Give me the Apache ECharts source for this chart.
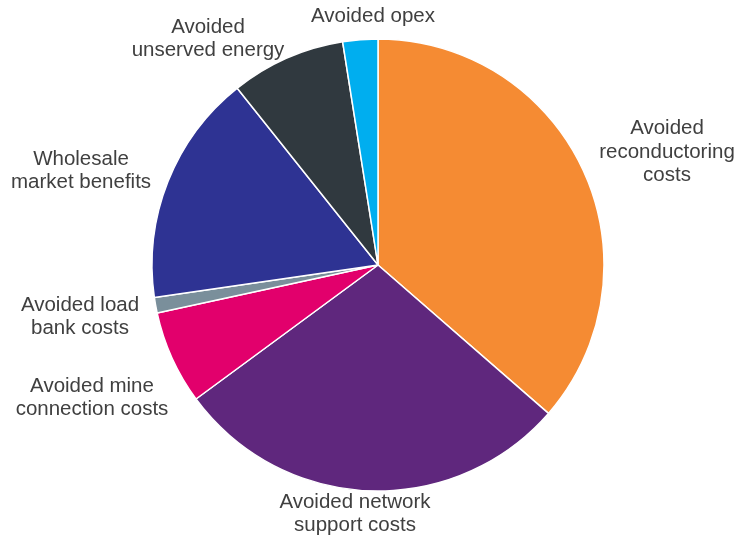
<!DOCTYPE html>
<html>
<head>
<meta charset="utf-8">
<script src="https://cdn.jsdelivr.net/npm/echarts@6/dist/echarts.min.js"></script>
<style>html,body{margin:0;padding:0;background:#fff}#c{width:737px;height:538px}</style>
</head>
<body>
<div id="c"></div>
<script>
const categories = [
  'Avoided\nreconductoring\ncosts',
  'Avoided network\nsupport costs',
  'Avoided mine\nconnection costs',
  'Avoided load\nbank costs',
  'Wholesale\nmarket benefits',
  'Avoided\nunserved energy',
  'Avoided opex'
];
const values = [36.4, 28.5, 6.7, 1.1, 16.6, 8.2, 2.5];
const colors = ['#F58B33', '#5F277D', '#E2006C', '#7A8F9B', '#2E3393', '#30393F', '#00AEEF'];
// label centre positions (layout only)
const labelPos = [[667, 152], [355, 514], [92, 398], [80, 317], [81, 171], [208, 39], [373, 16]];

const chart = echarts.init(document.getElementById('c'));
chart.setOption({
  animation: false,
  series: [{
    type: 'pie',
    center: [378, 265],
    radius: 226,
    startAngle: 90,
    clockwise: true,
    avoidLabelOverlap: false,
    data: categories.map((n, i) => ({name: n, value: values[i], itemStyle: {color: colors[i]}})),
    itemStyle: {borderColor: '#fff', borderWidth: 1.5},
    label: {
      show: true,
      position: 'outside',
      formatter: '{b}',
      color: '#404040',
      fontSize: 20.5,
      lineHeight: 23.5,
      overflow: 'none',
      fontFamily: '"Liberation Sans", Arial, sans-serif',
      align: 'center'
    },
    labelLine: {show: false},
    labelLayout: function (p) {
      const pos = labelPos[p.dataIndex];
      return {x: pos[0], y: pos[1], align: 'center', verticalAlign: 'middle'};
    }
  }]
});
</script>
</body>
</html>
